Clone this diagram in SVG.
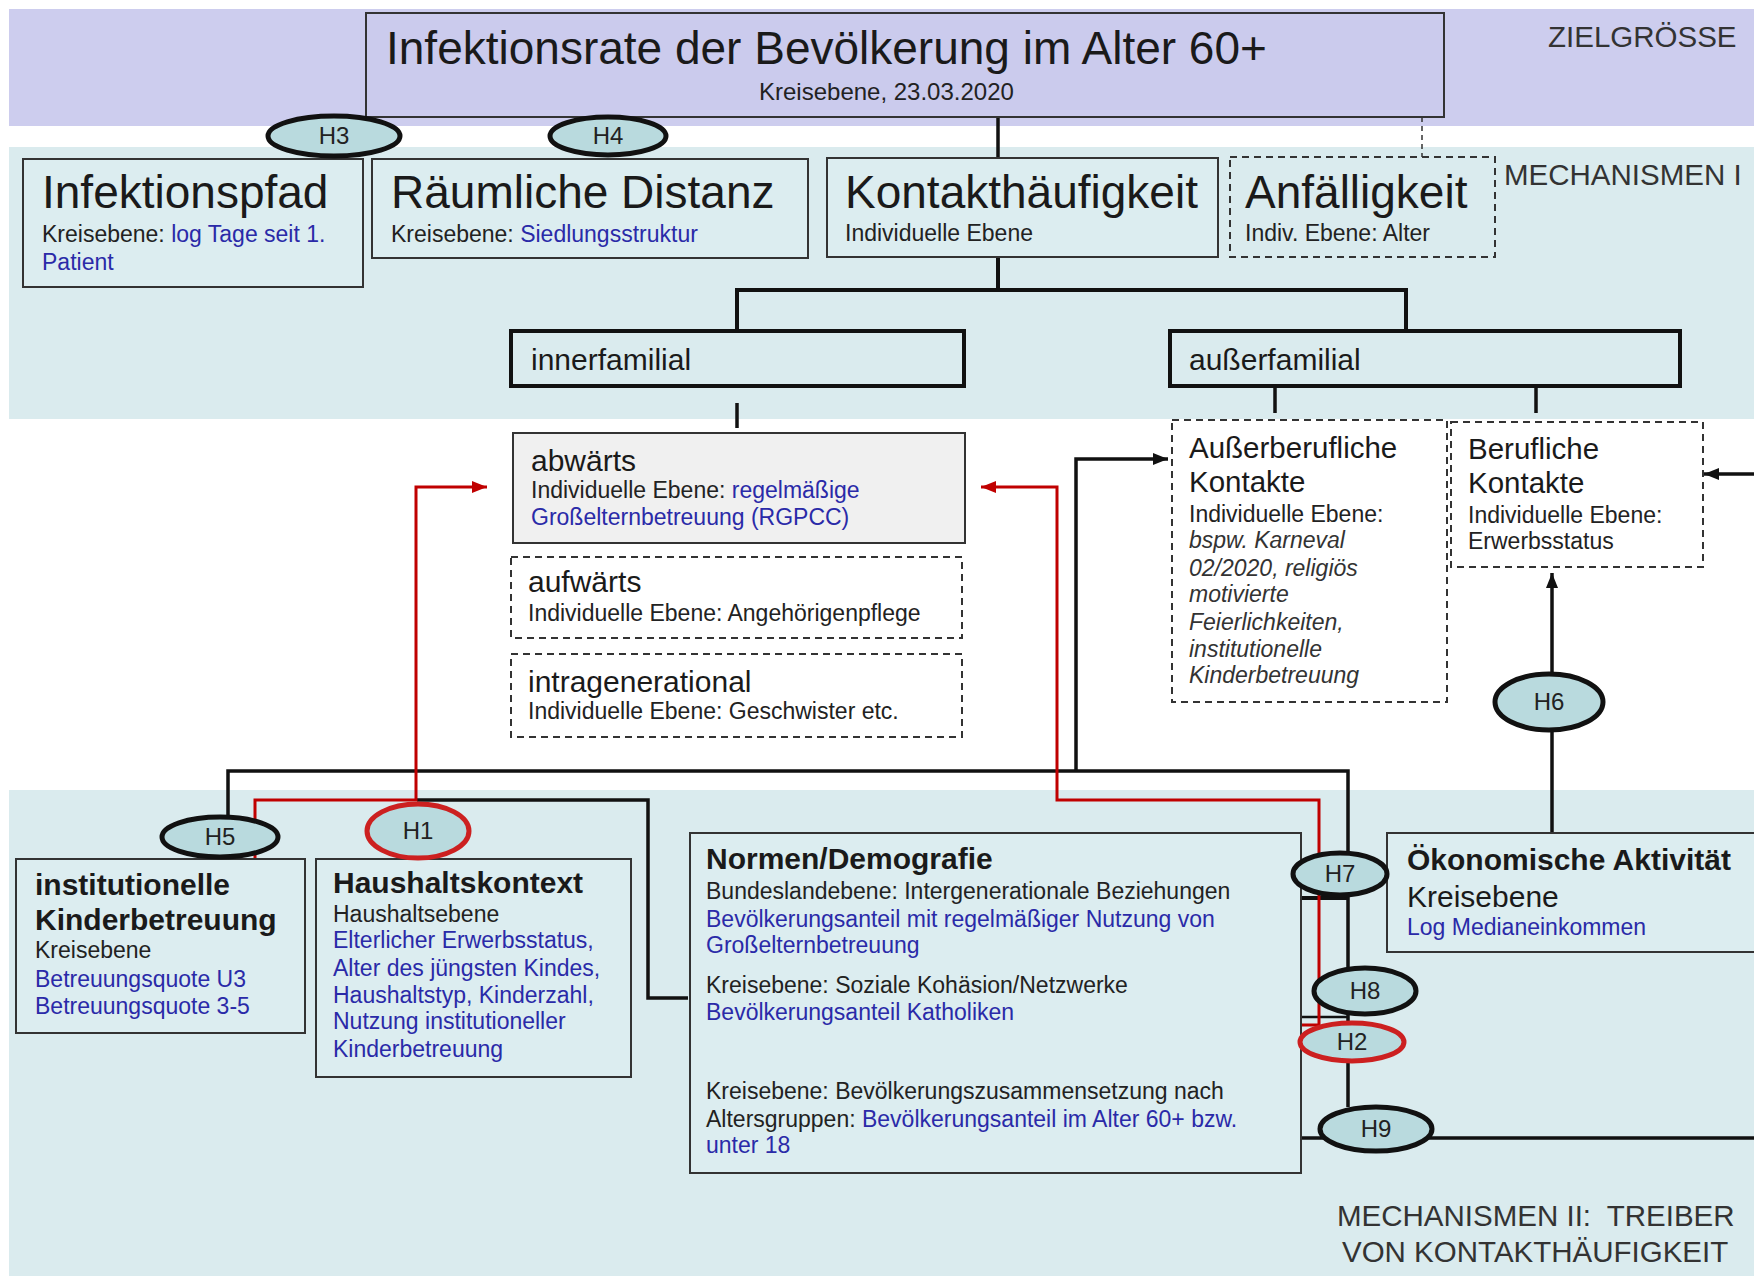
<svg xmlns="http://www.w3.org/2000/svg" width="1754" height="1276" viewBox="0 0 1754 1276">
<defs>
<style>
text{font-family:"Liberation Sans",Arial,sans-serif;fill:#1a1a1a}
.t46{font-size:46px}
.t30{font-size:30px}
.bd{font-size:30px;font-weight:bold}
.s23{font-size:23px;fill:#222}
.it{font-size:23px;fill:#333;font-style:italic}
.b{fill:#2a2aa8}
.box{fill:#dcedf0;stroke:#333;stroke-width:2}
.dbox{fill:none;stroke:#333;stroke-width:2;stroke-dasharray:7 5}
.fam{fill:#daebee;stroke:#111;stroke-width:4}
.ln{fill:none;stroke:#111;stroke-width:3.5}
.lt{fill:none;stroke:#111;stroke-width:2.5}
.red{fill:none;stroke:#c00000;stroke-width:3}
.hk{fill:#b9dade;stroke:#111;stroke-width:5}
.hr{fill:#b9dade;stroke:#cc2020;stroke-width:5}
.hl{font-size:24px;fill:#222;text-anchor:middle}
.lab{font-size:29.5px;fill:#333}
</style>
<marker id="ab" markerWidth="16" markerHeight="14" refX="15" refY="7" orient="auto" markerUnits="userSpaceOnUse"><path d="M0,1 L15,7 L0,13 z" fill="#111"/></marker>
<marker id="ar" markerWidth="16" markerHeight="14" refX="15" refY="7" orient="auto" markerUnits="userSpaceOnUse"><path d="M0,1 L15,7 L0,13 z" fill="#c00000"/></marker>
</defs>

<g id="background">
<rect x="0" y="0" width="1754" height="1276" fill="#ffffff"/>
<rect x="9" y="9" width="1745" height="117" fill="#cdcdee"/>
<rect x="9" y="147" width="1745" height="272" fill="#daebee"/>
<rect x="9" y="790" width="1745" height="486" fill="#daebee"/>
<text class="lab" x="1548" y="47">ZIELGRÖSSE</text>
<text class="lab" x="1504" y="185">MECHANISMEN I</text>
<text class="lab" x="1337" y="1226">MECHANISMEN II: <tspan dx="8">TREIBER</tspan></text>
<text class="lab" x="1342" y="1262">VON KONTAKTHÄUFIGKEIT</text>
</g>

<g id="connectors">
<path class="ln" d="M998,117 V158"/>
<path d="M1422,117 V157" fill="none" stroke="#333" stroke-width="1.5" stroke-dasharray="5 4"/>
<path class="ln" style="stroke-width:4" d="M998,257 V290 M737,331 V290 H1406 V331"/>
<path class="ln" d="M737,403 V428"/>
<path class="ln" d="M1275,386 V413 M1536,386 V413"/>
<path class="ln" d="M228,817 V771 H1348 V1107"/>
<path class="ln" d="M1076,771 V459 H1168" marker-end="url(#ab)"/>
<path class="ln" style="stroke-width:4" d="M1301,898 H1348"/>
<path class="lt" d="M1301,1017 H1348"/>
<path class="ln" d="M1301,1138 H1754"/>
<path class="ln" d="M1754,474 H1704" marker-end="url(#ab)"/>
<path class="ln" d="M1552,833 V573" marker-end="url(#ab)"/>
<path class="ln" d="M417,800 H648 V998 H688"/>
<path class="red" d="M255,859 V800 H416 V487 H487" marker-end="url(#ar)"/>
<path class="red" d="M1301,1025 H1319 V800 H1057 V487 H981" marker-end="url(#ar)"/>
</g>

<g id="n-ziel">
<rect x="366" y="13" width="1078" height="104" fill="#cbcbed" stroke="#333" stroke-width="2"/>
<text class="t46" x="386" y="64">Infektionsrate der Bevölkerung im Alter 60+</text>
<text x="759" y="100" style="font-size:24px;fill:#222">Kreisebene, 23.03.2020</text>
</g>

<g id="n-infektionspfad">
<rect class="box" x="23" y="159" width="340" height="128"/>
<text class="t46" x="42" y="208">Infektionspfad</text>
<text class="s23" x="42" y="242">Kreisebene: <tspan class="b">log Tage seit 1.</tspan></text>
<text class="s23 b" x="42" y="270">Patient</text>
</g>

<g id="n-raeumlich">
<rect class="box" x="372" y="159" width="436" height="99"/>
<text class="t46" x="391" y="208">Räumliche Distanz</text>
<text class="s23" x="391" y="242">Kreisebene: <tspan class="b">Siedlungsstruktur</tspan></text>
</g>

<g id="n-kontakt">
<rect class="box" x="827" y="158" width="391" height="99"/>
<text class="t46" x="845" y="208">Kontakthäufigkeit</text>
<text class="s23" x="845" y="241">Individuelle Ebene</text>
</g>

<g id="n-anfaellig">
<rect class="dbox" x="1230" y="157" width="265" height="100"/>
<text class="t46" x="1245" y="208">Anfälligkeit</text>
<text class="s23" x="1245" y="241">Indiv. Ebene: Alter</text>
</g>

<g id="n-inner">
<rect class="fam" x="511" y="331" width="453" height="55"/>
<text class="t30" x="531" y="370">innerfamilial</text>
</g>

<g id="n-ausser">
<rect class="fam" x="1170" y="331" width="510" height="55"/>
<text class="t30" x="1189" y="370">außerfamilial</text>
</g>

<g id="n-abwaerts">
<rect x="513" y="433" width="452" height="110" fill="#f0f0f0" stroke="#333" stroke-width="2"/>
<text class="t30" x="531" y="471">abwärts</text>
<text class="s23" x="531" y="498">Individuelle Ebene: <tspan class="b">regelmäßige</tspan></text>
<text class="s23 b" x="531" y="525">Großelternbetreuung (RGPCC)</text>
</g>

<g id="n-aufwaerts">
<rect class="dbox" x="511" y="557" width="451" height="81"/>
<text class="t30" x="528" y="592">aufwärts</text>
<text class="s23" x="528" y="621">Individuelle Ebene: Angehörigenpflege</text>
</g>

<g id="n-intra">
<rect class="dbox" x="511" y="654" width="451" height="83"/>
<text class="t30" x="528" y="692">intragenerational</text>
<text class="s23" x="528" y="719">Individuelle Ebene: Geschwister etc.</text>
</g>

<g id="n-ausserberuflich">
<rect class="dbox" x="1172" y="420" width="275" height="282"/>
<text class="t30" x="1189" y="458" style="font-size:29.5px">Außerberufliche</text>
<text class="t30" x="1189" y="492" style="font-size:29.5px">Kontakte</text>
<text class="s23" x="1189" y="522">Individuelle Ebene:</text>
<text class="it" x="1189" y="548">bspw. Karneval</text>
<text class="it" x="1189" y="576">02/2020, religiös</text>
<text class="it" x="1189" y="602">motivierte</text>
<text class="it" x="1189" y="630">Feierlichkeiten,</text>
<text class="it" x="1189" y="657">institutionelle</text>
<text class="it" x="1189" y="683">Kinderbetreuung</text>
</g>

<g id="n-beruflich">
<rect class="dbox" x="1451" y="422" width="252" height="145"/>
<text class="t30" x="1468" y="459" style="font-size:29.5px">Berufliche</text>
<text class="t30" x="1468" y="493" style="font-size:29.5px">Kontakte</text>
<text class="s23" x="1468" y="523">Individuelle Ebene:</text>
<text class="s23" x="1468" y="549">Erwerbsstatus</text>
</g>

<g id="n-kinderbetreuung">
<rect class="box" x="16" y="859" width="289" height="174"/>
<text class="bd" x="35" y="895">institutionelle</text>
<text class="bd" x="35" y="930">Kinderbetreuung</text>
<text class="s23" x="35" y="958">Kreisebene</text>
<text class="s23 b" x="35" y="987">Betreuungsquote U3</text>
<text class="s23 b" x="35" y="1014">Betreuungsquote 3-5</text>
</g>

<g id="n-haushalt">
<rect class="box" x="316" y="859" width="315" height="218"/>
<text class="bd" x="333" y="893">Haushaltskontext</text>
<text class="s23" x="333" y="922">Haushaltsebene</text>
<text class="s23 b" x="333" y="948">Elterlicher Erwerbsstatus,</text>
<text class="s23 b" x="333" y="976">Alter des jüngsten Kindes,</text>
<text class="s23 b" x="333" y="1003">Haushaltstyp, Kinderzahl,</text>
<text class="s23 b" x="333" y="1029">Nutzung institutioneller</text>
<text class="s23 b" x="333" y="1057">Kinderbetreuung</text>
</g>

<g id="n-normen">
<rect class="box" x="690" y="833" width="611" height="340"/>
<text class="bd" x="706" y="869">Normen/Demografie</text>
<text class="s23" x="706" y="899">Bundeslandebene: Intergenerationale Beziehungen</text>
<text class="s23 b" x="706" y="927">Bevölkerungsanteil mit regelmäßiger Nutzung von</text>
<text class="s23 b" x="706" y="953">Großelternbetreuung</text>
<text class="s23" x="706" y="993">Kreisebene: Soziale Kohäsion/Netzwerke</text>
<text class="s23 b" x="706" y="1020">Bevölkerungsanteil Katholiken</text>
<text class="s23" x="706" y="1099">Kreisebene: Bevölkerungszusammensetzung nach</text>
<text class="s23" x="706" y="1127">Altersgruppen: <tspan class="b">Bevölkerungsanteil im Alter 60+ bzw.</tspan></text>
<text class="s23 b" x="706" y="1153">unter 18</text>
</g>

<g id="n-oekonomisch">
<rect class="box" x="1387" y="833" width="373" height="119"/>
<text class="bd" x="1407" y="870">Ökonomische Aktivität</text>
<text class="t30" x="1407" y="907">Kreisebene</text>
<text class="s23 b" x="1407" y="935">Log Medianeinkommen</text>
</g>

<g id="h3"><ellipse class="hk" cx="334" cy="136" rx="66" ry="20"/><text class="hl" x="334" y="144">H3</text></g>
<g id="h4"><ellipse class="hk" cx="608" cy="136" rx="58" ry="19"/><text class="hl" x="608" y="144">H4</text></g>
<g id="h5"><ellipse class="hk" cx="220" cy="837" rx="58" ry="20"/><text class="hl" x="220" y="845">H5</text></g>
<g id="h1"><ellipse class="hr" cx="418" cy="831" rx="51" ry="27"/><text class="hl" x="418" y="839">H1</text></g>
<g id="h6"><ellipse class="hk" cx="1549" cy="702" rx="54" ry="28"/><text class="hl" x="1549" y="710">H6</text></g>
<g id="h7"><ellipse class="hk" cx="1340" cy="874" rx="47" ry="21"/><text class="hl" x="1340" y="882">H7</text></g>
<g id="h8"><ellipse class="hk" cx="1365" cy="991" rx="51" ry="23"/><text class="hl" x="1365" y="999">H8</text></g>
<g id="h2"><ellipse class="hr" cx="1352" cy="1042" rx="52" ry="19"/><text class="hl" x="1352" y="1050">H2</text></g>
<g id="h9"><ellipse class="hk" cx="1376" cy="1129" rx="56" ry="22"/><text class="hl" x="1376" y="1137">H9</text></g>
</svg>
